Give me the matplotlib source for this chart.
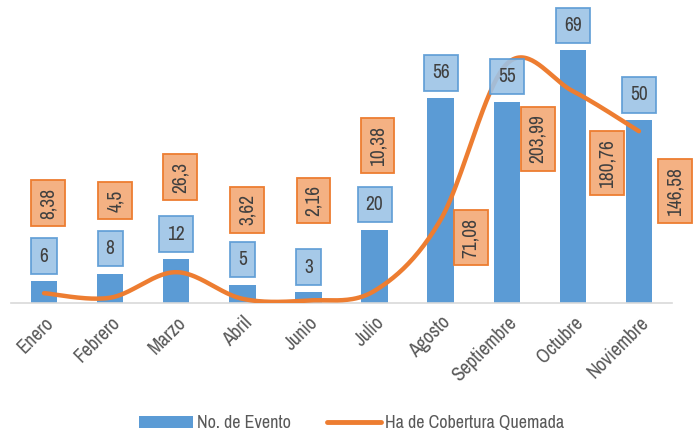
import numpy as np
import matplotlib
matplotlib.use("Agg")
import matplotlib.pyplot as plt
from matplotlib import font_manager as fm
from matplotlib.patches import Patch
from matplotlib.lines import Line2D
from matplotlib.transforms import offset_copy, ScaledTranslation

# data
months = ["Enero", "Febrero", "Marzo", "Abril", "Junio", "Julio",
          "Agosto", "Septiembre", "Octubre", "Noviembre"]
eventos = [6, 8, 12, 5, 3, 20, 56, 55, 69, 50]
hectareas = [8.38, 4.5, 26.3, 3.62, 2.16, 10.38, 71.08, 203.99, 180.76, 146.58]
ha_labels = ["8,38", "4,5", "26,3", "3,62", "2,16", "10,38",
             "71,08", "203,99", "180,76", "146,58"]

# label offsets (pixels) of the orange boxes from their points, as placed in the original
ha_offsets = [(4, 90), (5, 97), (4, 95), (5, 89), (5, 100), (3, 145),
              (30, -18), (31, -75), (34, -72), (36, -60)]

# pick a narrow font if one is installed
narrow = None
for f in fm.fontManager.ttflist:
    if ("Narrow" in f.name or "Condensed" in f.name) and f.weight in (400, "normal", "regular"):
        narrow = (f.name, "normal")
        break
if narrow is None:
    for f in fm.fontManager.ttflist:
        if f.stretch in ("condensed", "semi-condensed", 300, 400):
            narrow = (f.name, f.stretch)
            break
if narrow is not None:
    plt.rcParams["font.family"] = [narrow[0], "DejaVu Sans"]
    plt.rcParams["font.stretch"] = narrow[1]
    fs_lab, fs_tick, fs_leg = 14, 14, 13
else:
    plt.rcParams["font.family"] = ["Liberation Sans", "DejaVu Sans"]
    fs_lab, fs_tick, fs_leg = 13, 12, 12

blue = "#5B9BD5"
orange = "#ED7D31"
txt = "#404040"
gray = "#595959"


def smooth(x, y, n=40):
    # bezier smoothing like Excel's smoothed line
    x = np.asarray(x, float)
    y = np.asarray(y, float)
    px = np.concatenate([[x[0]], x, [x[-1]]])
    py = np.concatenate([[y[0]], y, [y[-1]]])
    xs, ys = [], []
    t = np.linspace(0, 1, n)
    for i in range(1, len(px) - 2):
        p0 = np.array([px[i], py[i]])
        p3 = np.array([px[i + 1], py[i + 1]])
        p1 = p0 + (np.array([px[i + 1], py[i + 1]]) - np.array([px[i - 1], py[i - 1]])) / 6
        p2 = p3 - (np.array([px[i + 2], py[i + 2]]) - np.array([px[i], py[i]])) / 6
        b = ((1 - t) ** 3)[:, None] * p0 + (3 * (1 - t) ** 2 * t)[:, None] * p1 \
            + (3 * (1 - t) * t ** 2)[:, None] * p2 + (t ** 3)[:, None] * p3
        xs.extend(b[:, 0])
        ys.extend(b[:, 1])
    return np.array(xs), np.array(ys)


fig = plt.figure(figsize=(6.96, 4.43), dpi=100)
ax = fig.add_axes([11 / 696, 140 / 443, 661 / 696, 293 / 443])
ax2 = ax.twinx()

x = np.arange(len(months))
ax.bar(x, eventos, width=0.4, color=blue, zorder=2)
ax.set_ylim(0, 80)
ax.set_xlim(-0.5, len(months) - 0.5)
ax2.set_ylim(0, 250)

sx, sy = smooth(x, hectareas)
ax2.plot(sx, sy, color=orange, lw=3.2, solid_capstyle="round", zorder=3)

for a in (ax, ax2):
    for s in a.spines.values():
        s.set_visible(False)
    a.set_yticks([])
ax.spines["bottom"].set_visible(True)
ax.spines["bottom"].set_color("#D9D9D9")
ax.spines["bottom"].set_linewidth(1.2)

ax.set_xticks(x)
ax.set_xticklabels(months, rotation=45, ha="right", va="center",
                   rotation_mode="anchor", fontsize=fs_tick, color=gray)
ax.tick_params(axis="x", length=0, pad=12)
shift = ScaledTranslation(0.07, 0, fig.dpi_scale_trans)
for lab in ax.get_xticklabels():
    lab.set_transform(lab.get_transform() + shift)

# blue value boxes
for xi, v in zip(x, eventos):
    tr = offset_copy(ax.transData, fig=fig, x=0, y=25, units="dots")
    ax2.text(xi, v, str(v), transform=tr, ha="center", va="center",
             fontsize=fs_lab, color=txt, zorder=5,
             bbox=dict(boxstyle="square,pad=0.42", fc="#9DC3E6", ec=blue, lw=1.3, alpha=0.9))

# orange value boxes
for xi, v, lab, (dx, dy) in zip(x, hectareas, ha_labels, ha_offsets):
    tr = offset_copy(ax2.transData, fig=fig, x=dx, y=dy, units="dots")
    ax2.text(xi, v, lab, transform=tr, ha="center", va="center", rotation=90,
             fontsize=fs_lab, color=txt, zorder=5,
             bbox=dict(boxstyle="square,pad=0.38", fc="#F4B183", ec=orange, lw=1.3))

handles = [Patch(facecolor=blue, edgecolor="none"),
           Line2D([0], [0], color=orange, lw=3.5, solid_capstyle="round")]
fig.legend(handles, ["No. de Evento", "Ha de Cobertura Quemada"], loc="lower center",
           bbox_to_anchor=(0.505, -0.01), ncol=2, frameon=False, fontsize=fs_leg,
           labelcolor=gray, handlelength=3.0, handleheight=0.6, columnspacing=2.0,
           handletextpad=0.2)

fig.savefig("out.png", dpi=100)
